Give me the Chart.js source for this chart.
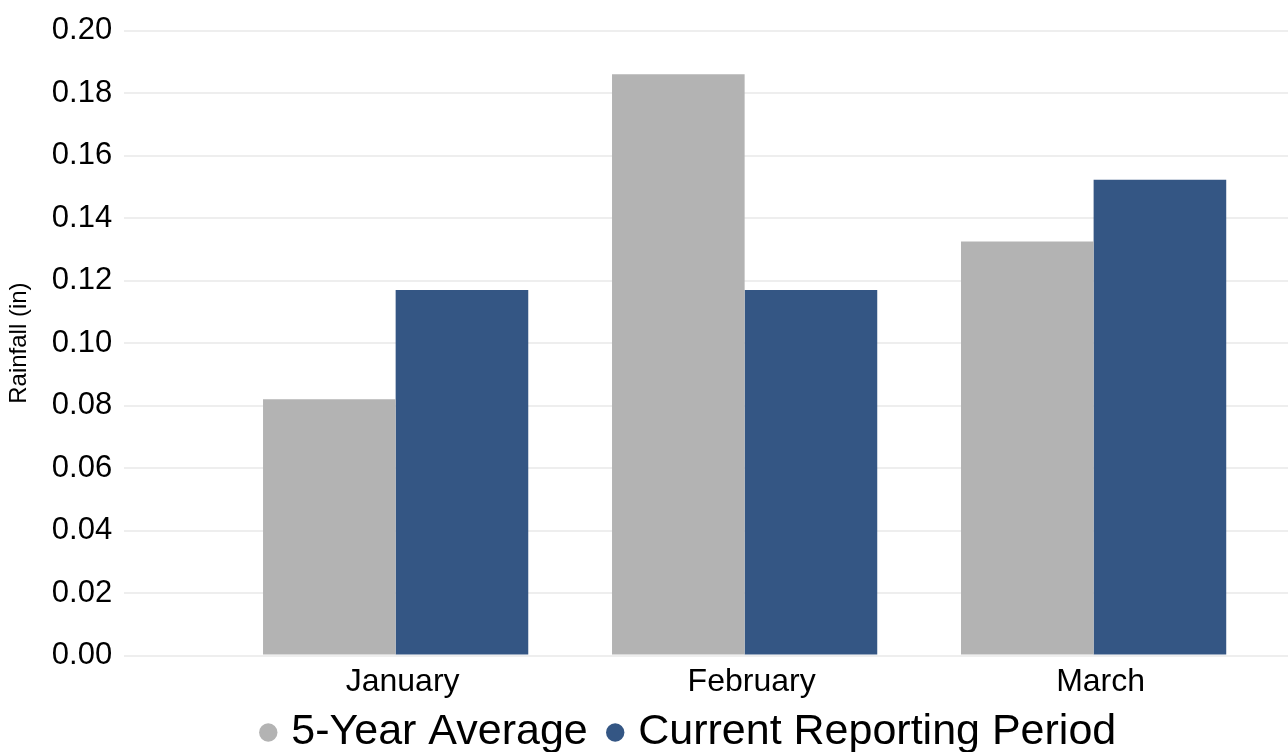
<!DOCTYPE html>
<html>
<head>
<meta charset="utf-8">
<script src="https://cdn.jsdelivr.net/npm/chart.js@4"></script>
<style>
  html, body { margin: 0; padding: 0; background: #fff; }
  #wrap { width: 1288px; height: 752px; }
</style>
</head>
<body>
<div id="wrap"><canvas id="rainChart"></canvas></div>
<script>
// values
const months = ['January', 'February', 'March'];
const fiveYearAverage = [0.082, 0.186, 0.1325];
const currentPeriod = [0.117, 0.117, 0.1523];
const yTicks = [0, 0.02, 0.04, 0.06, 0.08, 0.10, 0.12, 0.14, 0.16, 0.18, 0.20];

const GREY = '#b3b3b3';
const BLUE = '#345684';
const FONT = "'Liberation Sans', Arial, sans-serif";
const LEGEND_GAP = 26;

const toPoints = vals => vals.map((v, i) => ({ x: i, y: v }));

// labels.padding spaces the legend items apart but also pads the legend box;
// take that back out so the legend sits right under the month labels
const tightLegend = {
  id: 'tightLegend',
  afterInit(chart) {
    const legend = chart.legend;
    const fit = legend.fit;
    legend.fit = function () {
      fit.call(this);
      this.height -= LEGEND_GAP + 9;
    };
  },
  afterLayout(chart) {
    const legend = chart.legend;
    legend.top -= 23;
    // the legend row is centred a little right of the canvas centre
    legend.left += 47;
    legend.right += 47;
  },
};

new Chart(document.getElementById('rainChart').getContext('2d'), {
  type: 'bar',
  data: {
    datasets: [
      { label: '5-Year Average', data: toPoints(fiveYearAverage), backgroundColor: GREY },
      { label: 'Current Reporting Period', data: toPoints(currentPeriod), backgroundColor: BLUE },
    ],
  },
  options: {
    responsive: true,
    maintainAspectRatio: false,
    animation: false,
    layout: { padding: { top: 16, right: 0, left: 1, bottom: 0 } },
    datasets: {
      bar: { categoryPercentage: 0.76, barPercentage: 1.0 },
    },
    plugins: {
      legend: {
        position: 'bottom',
        labels: {
          usePointStyle: true,
          pointStyle: 'circle',
          boxWidth: 3,
          boxHeight: 13,
          padding: LEGEND_GAP,
          color: '#000',
          font: { family: FONT, size: 43 },
        },
      },
      tooltip: { enabled: false },
    },
    scales: {
      x: {
        type: 'linear',
        offset: false,
        min: -0.778,
        max: 2.557,
        afterBuildTicks: axis => { axis.ticks = months.map((_, i) => ({ value: i })); },
        grid: { display: false, drawTicks: false },
        border: { display: false },
        ticks: {
          padding: 7,
          labelOffset: 7,
          color: '#000',
          font: { family: FONT, size: 32 },
          callback: v => months[v] ?? '',
        },
      },
      y: {
        min: 0,
        max: 0.2,
        afterBuildTicks: axis => { axis.ticks = yTicks.map(v => ({ value: v })); },
        grid: { color: '#eeeeee', lineWidth: 2, drawTicks: false },
        border: { display: false },
        title: {
          display: true,
          text: 'Rainfall (in)',
          color: '#000',
          font: { family: FONT, size: 24 },
          padding: { top: 4, bottom: 6 },
        },
        ticks: {
          padding: 12,
          color: '#000',
          font: { family: FONT, size: 31 },
          callback: v => Number(v).toFixed(2),
        },
      },
    },
  },
  plugins: [tightLegend],
});
</script>
</body>
</html>
